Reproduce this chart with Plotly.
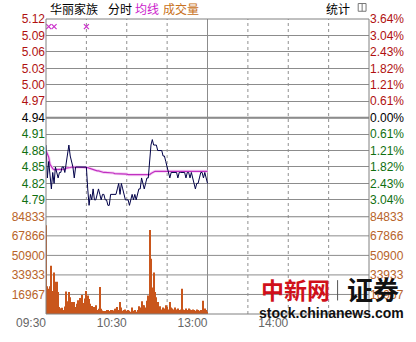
import plotly.graph_objects as go

# ---------------- data ----------------
minutes = list(range(121))
price = [4.89, 4.83, 4.86, 4.84, 4.81, 4.84, 4.82, 4.85, 4.84, 4.83,
         4.84, 4.84, 4.85, 4.85, 4.84, 4.86, 4.88, 4.89, 4.87, 4.86,
         4.85, 4.83, 4.85, 4.85, 4.85, 4.85, 4.85, 4.85, 4.85, 4.85,
         4.85, 4.81, 4.78, 4.80, 4.79, 4.81, 4.79, 4.79, 4.80, 4.81,
         4.80, 4.79, 4.80, 4.80, 4.79, 4.79, 4.78, 4.78, 4.80, 4.80,
         4.80, 4.80, 4.80, 4.81, 4.82, 4.80, 4.82, 4.81, 4.80, 4.79,
         4.79, 4.79, 4.78, 4.79, 4.80, 4.79, 4.80, 4.79, 4.80, 4.81,
         4.81, 4.83, 4.82, 4.81, 4.82, 4.83, 4.83, 4.86, 4.89, 4.90,
         4.89, 4.89, 4.89, 4.88, 4.88, 4.88, 4.88, 4.87, 4.87, 4.86,
         4.85, 4.84, 4.83, 4.84, 4.84, 4.84, 4.84, 4.84, 4.83, 4.84,
         4.84, 4.84, 4.84, 4.84, 4.83, 4.84, 4.84, 4.83, 4.84, 4.83,
         4.82, 4.81, 4.82, 4.82, 4.83, 4.84, 4.84, 4.83, 4.84, 4.83,
         4.82]
avg_price = [4.880, 4.875, 4.868, 4.855, 4.850, 4.847, 4.845, 4.845, 4.845, 4.846,
             4.846, 4.846, 4.846, 4.846, 4.846, 4.848, 4.848, 4.849, 4.849, 4.850,
             4.850, 4.850, 4.850, 4.850, 4.850, 4.850, 4.850, 4.850, 4.850, 4.850,
             4.850, 4.849, 4.848, 4.847, 4.846, 4.845, 4.844, 4.844, 4.843, 4.843,
             4.842, 4.841, 4.841, 4.840, 4.840, 4.840, 4.839, 4.839, 4.839, 4.839,
             4.839, 4.838, 4.838, 4.838, 4.838, 4.838, 4.837, 4.837, 4.837, 4.837,
             4.837, 4.836, 4.836, 4.836, 4.836, 4.836, 4.836, 4.836, 4.835, 4.835,
             4.835, 4.835, 4.835, 4.835, 4.835, 4.835, 4.835, 4.836, 4.838, 4.840,
             4.841, 4.842, 4.842, 4.842, 4.842, 4.842, 4.842, 4.842, 4.842, 4.842,
             4.842, 4.842, 4.842, 4.842, 4.842, 4.842, 4.842, 4.842, 4.842, 4.842,
             4.842, 4.842, 4.842, 4.842, 4.842, 4.842, 4.842, 4.842, 4.842, 4.842,
             4.842, 4.842, 4.842, 4.842, 4.842, 4.842, 4.842, 4.842, 4.842, 4.842,
             4.842]
volume = [77000, 24000, 22000, 24000, 42000, 20000, 36000, 28000, 28000, 19000,
          6000, 5000, 5500, 3500, 6500, 19500, 11000, 19000, 14500, 10500,
          9000, 10500, 6000, 9000, 12000, 14000, 10500, 16500, 9500, 13500,
          20000, 16000, 13000, 9000, 7000, 4000, 6000, 7500, 3500, 4500,
          23500, 4500, 3000, 2500, 2500, 3500, 3500, 2500, 3500, 3500,
          3000, 4500, 4500, 6000, 3500, 10500, 5600, 2800, 3400, 3900,
          2800, 3400, 2800, 2000, 5600, 2800, 3400, 2000, 3400, 6700,
          5600, 11000, 7500, 7500, 5600, 11500, 16000, 73000, 48000, 23000,
          36000, 19000, 14500, 10500, 4800, 6700, 3900, 5600, 4800, 7500,
          6200, 3900, 10500, 5600, 4800, 3900, 5600, 3900, 4800, 3400,
          3900, 22000, 3900, 3400, 4800, 3400, 4800, 3900, 3400, 3900,
          3400, 2800, 3900, 3400, 2800, 3400, 2000, 11500, 4800, 3400,
          2000]
marker_minutes = [2, 6, 30]
marker_price = 5.106

base_price = 4.94
price_ticks = [5.12, 5.09, 5.06, 5.03, 5.00, 4.97, 4.94, 4.91, 4.88, 4.85, 4.82, 4.79]
pct_labels = ["3.64%", "3.04%", "2.43%", "1.82%", "1.21%", "0.61%", "0.00%",
              "0.61%", "1.21%", "1.82%", "2.43%", "3.04%"]
vol_ticks = [84833, 67866, 50900, 33933, 16967]
vol_grid = [67866, 50900, 33933, 16967]
time_vals = [0, 60, 120, 180]
time_labels = ["09:30", "10:30", "13:00", "14:00"]
grid_minutes = [30, 60, 90, 150, 180, 210]
midday_minute = 120

# ---------------- styling ----------------
RED = "#b01010"
GREEN = "#107010"
BLACK = "#000000"
ORANGE = "#b8642a"
GRID = "#8c8c8c"
FONT = "Liberation Sans, Arial, sans-serif"
CJK = "Noto Sans CJK SC, sans-serif"

L, R, T, B = 43, 44, 19, 18
W, H = 416, 342
PW, PH = W - L - R, H - T - B


def px_x(px):
    return (px - L) / PW


def px_y(py):
    return (H - B - py) / PH


split = px_y(223)


def col_for(v):
    if v > base_price + 1e-9:
        return RED
    if v < base_price - 1e-9:
        return GREEN
    return BLACK


price_text = ['<span style="color:%s">%.2f</span>' % (col_for(v), v) for v in price_ticks]
pct_text = ['<span style="color:%s">%s</span>' % (col_for(v), s) for v, s in zip(price_ticks, pct_labels)]
vol_text = ['<span style="color:%s">%d</span>' % (ORANGE, v) for v in vol_ticks]

fig = go.Figure()

fig.add_trace(go.Bar(x=minutes, y=volume, xaxis="x", yaxis="y2",
                     marker=dict(color="#c9561c", line=dict(width=0)),
                     hoverinfo="skip"))
# invisible carriers so that the right-hand axes are drawn
fig.add_trace(go.Scatter(x=minutes, y=price, mode="lines", xaxis="x", yaxis="y3",
                         line=dict(width=0, color="rgba(0,0,0,0)"), hoverinfo="skip"))
fig.add_trace(go.Scatter(x=minutes, y=volume, mode="lines", xaxis="x", yaxis="y4",
                         line=dict(width=0, color="rgba(0,0,0,0)"), hoverinfo="skip"))
fig.add_trace(go.Scatter(x=minutes, y=avg_price, mode="lines", xaxis="x", yaxis="y",
                         line=dict(color="#f6d2f6", width=3), hoverinfo="skip"))
fig.add_trace(go.Scatter(x=minutes, y=avg_price, mode="lines", xaxis="x", yaxis="y",
                         line=dict(color="#c030c0", width=1.2)))
fig.add_trace(go.Scatter(x=minutes, y=price, mode="lines", xaxis="x", yaxis="y",
                         line=dict(color="#000048", width=1)))
fig.add_trace(go.Scatter(x=marker_minutes, y=[marker_price] * len(marker_minutes),
                         mode="markers", xaxis="x", yaxis="y",
                         marker=dict(symbol="x-thin", size=5, line=dict(color="#cc33cc", width=1.2))))

axis_common = dict(showline=False, zeroline=False, ticks="", fixedrange=True)

fig.update_layout(
    width=W, height=H,
    margin=dict(l=L, r=R, t=T, b=B, pad=0),
    paper_bgcolor="white", plot_bgcolor="white",
    showlegend=False, bargap=0.3,
    font=dict(family=FONT, size=12, color="#333"),
    xaxis=dict(domain=[0, 1], range=[0, 240], anchor="y2",
               tickmode="array", tickvals=time_vals, ticktext=time_labels,
               ticklabelposition="outside left",
               tickfont=dict(family=FONT, size=12, color="#666666"),
               showgrid=False, **axis_common),
    yaxis=dict(domain=[split, 1], range=[4.76, 5.12], anchor="x", side="left",
               tickmode="array", tickvals=price_ticks, ticktext=price_text,
               tickfont=dict(family=FONT, size=12),
               showgrid=True, gridcolor=GRID, gridwidth=1, **axis_common),
    yaxis3=dict(overlaying="y", range=[4.76, 5.12], anchor="x", side="right",
                tickmode="array", tickvals=price_ticks, ticktext=pct_text,
                tickfont=dict(family=FONT, size=12),
                showgrid=False, **axis_common),
    yaxis2=dict(domain=[0, split], range=[0, 84833], anchor="x", side="left",
                tickmode="array", tickvals=vol_ticks, ticktext=vol_text,
                tickfont=dict(family=FONT, size=12),
                showgrid=False, **axis_common),
    yaxis4=dict(overlaying="y2", range=[0, 84833], anchor="x", side="right",
                tickmode="array", tickvals=vol_ticks, ticktext=vol_text,
                tickfont=dict(family=FONT, size=12),
                showgrid=False, **axis_common),
)

shapes = []
for v in vol_grid:
    shapes.append(dict(type="line", xref="paper", yref="y2", x0=0, x1=1, y0=v, y1=v,
                       line=dict(color=GRID, width=1), layer="below"))
for m in grid_minutes:
    shapes.append(dict(type="line", xref="x", yref="paper", x0=m, x1=m, y0=0, y1=1,
                       line=dict(color="#909090", width=1, dash="dot"), layer="below"))
shapes.append(dict(type="line", xref="x", yref="paper", x0=midday_minute, x1=midday_minute,
                   y0=0, y1=1, line=dict(color=GRID, width=1), layer="below"))
shapes.append(dict(type="line", xref="paper", yref="y", x0=0, x1=1, y0=base_price, y1=base_price,
                   line=dict(color="#808080", width=2), layer="below"))
shapes.append(dict(type="line", xref="paper", yref="y2", x0=0, x1=1, y0=84833, y1=84833,
                   line=dict(color="#808080", width=2), layer="below"))
shapes.append(dict(type="rect", xref="paper", yref="paper", x0=0, x1=1, y0=0, y1=1,
                   line=dict(color="#808080", width=1), layer="above"))
shapes.append(dict(type="rect", xref="paper", yref="paper",
                   x0=px_x(361), x1=px_x(369), y0=px_y(11), y1=px_y(3),
                   line=dict(color="#777777", width=1)))
shapes.append(dict(type="line", xref="paper", yref="paper",
                   x0=px_x(365), x1=px_x(365), y0=px_y(11), y1=px_y(3),
                   line=dict(color="#777777", width=1)))
shapes.append(dict(type="line", xref="paper", yref="paper",
                   x0=px_x(340), x1=px_x(340), y0=px_y(310), y1=px_y(289),
                   line=dict(color="#555555", width=1)))
fig.update_layout(shapes=shapes)

ann = []


def add_text(text, px, py, size, color, family=CJK, xanchor="left", bold=False):
    t = "<b>%s</b>" % text if bold else text
    ann.append(dict(text=t, x=px_x(px), y=px_y(py), xref="paper", yref="paper",
                    xanchor=xanchor, yanchor="middle", showarrow=False,
                    font=dict(size=size, color=color, family=family)))


add_text("华丽家族", 45, 8, 12, "#000000")
add_text("分时", 104, 8, 12, "#000000")
add_text("均线", 132, 8, 12, "#cc22cc")
add_text("成交量", 160, 8, 12, "#c87020")
add_text("统计", 326, 8, 12, "#000000")

add_text("中新网", 297, 298, 23, "#d0101a", xanchor="center", bold=True)
add_text("证券", 376, 298, 26, "#111111", xanchor="center", bold=True)
add_text("stock.chinanews.com", 334, 323, 14, "#111111", family=FONT, xanchor="center", bold=True)

fig.update_layout(annotations=ann)

fig.write_html("out.html")
